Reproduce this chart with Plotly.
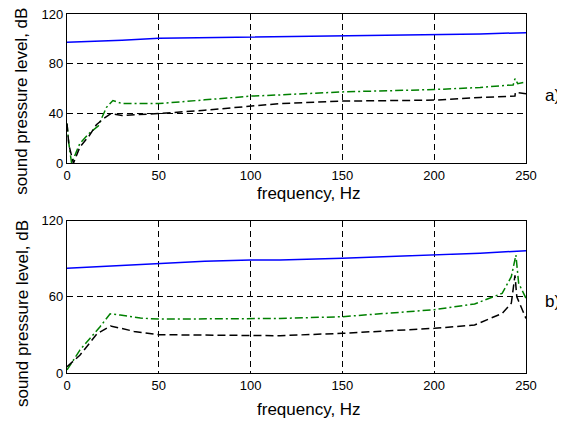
import plotly.graph_objects as go

# ---------------- data ----------------
# panel a)
blue_a_x = [0, 15, 30, 50, 75, 100, 150, 200, 225, 250]
blue_a_y = [97.4, 98, 99, 100.5, 101, 101.5, 102, 103, 104, 105]

green_a_x = [0, 1, 2.5, 7, 12, 17, 21.5, 25, 30, 40, 50, 75, 100, 116, 150, 200, 225, 240, 243, 244, 245.5, 250]
green_a_y = [32, 16, 0, 16, 24, 30, 45, 50.5, 48, 48, 48, 51, 54, 55, 57.4, 59.3, 61, 62.8, 63, 68, 64, 65.5]

black_a_x = [0, 1, 3.5, 7, 12, 16, 20, 24, 30, 40, 50, 75, 100, 116, 150, 200, 225, 242, 244, 244.2, 250]
black_a_y = [32, 15, 0, 13, 22, 31, 36, 40, 38.5, 39, 40, 42.7, 46, 48, 50, 50.8, 53, 54, 54, 57, 56]

# panel b)
blue_b_x = [0, 25, 50, 75, 100, 116, 150, 200, 225, 250]
blue_b_y = [82.5, 84.5, 86.4, 88, 89, 89, 90.4, 93, 94.5, 96.4]

green_b_x = [0, 7, 18, 23.5, 29, 40, 50, 100, 116, 150, 200, 222, 237, 242, 244.5, 246, 250]
green_b_y = [2.4, 18, 36.5, 46.7, 45.7, 43.3, 42.5, 42.5, 43, 44.4, 49.9, 54.4, 62.8, 75.9, 93, 70.7, 58.9]

black_b_x = [0, 7, 16.4, 23.7, 29, 36.5, 50, 100, 116, 150, 200, 222, 237, 242, 244, 245, 247.5, 250]
black_b_y = [5, 14, 31, 37, 35.4, 32.8, 30.2, 29.4, 29.4, 31.3, 35.2, 37.8, 47, 55, 77, 60, 52, 43]

x_ticks = [0, 50, 100, 150, 200, 250]
y_ticks_a = [0, 40, 80, 120]
y_ticks_b = [0, 60, 120]

BLUE = "#0000ff"
GREEN = "#008000"
BLACK = "#000000"
FONT = "Liberation Sans, Arial, sans-serif"

fig = go.Figure()

def add_panel(xa, ya, bx, by, gx, gy, kx, ky):
    fig.add_trace(go.Scatter(x=bx, y=by, mode="lines", xaxis=xa, yaxis=ya,
                             line=dict(color=BLUE, width=1.5)))
    fig.add_trace(go.Scatter(x=gx, y=gy, mode="lines", xaxis=xa, yaxis=ya,
                             line=dict(color=GREEN, width=1.5, dash="8px,3px,2px,3px")))
    fig.add_trace(go.Scatter(x=kx, y=ky, mode="lines", xaxis=xa, yaxis=ya,
                             line=dict(color=BLACK, width=1.5, dash="8px,4px")))

add_panel("x", "y", blue_a_x, blue_a_y, green_a_x, green_a_y, black_a_x, black_a_y)
add_panel("x2", "y2", blue_b_x, blue_b_y, green_b_x, green_b_y, black_b_x, black_b_y)

axis_common = dict(
    showline=True, mirror=True, linecolor="black", linewidth=1.3,
    showgrid=True, gridcolor="black", gridwidth=1, griddash="6px,4px",
    zeroline=False, ticks="", automargin=False, ticklabeloverflow="allow",
    tickfont=dict(family=FONT, size=13, color="black"),
)

TITLE_FONT = dict(size=17, family=FONT, color="black")

def ann(text, x, y, yref="paper", angle=0):
    return dict(text=text, xref="paper", yref=yref, x=x, y=y, xanchor="center",
                yanchor="middle", showarrow=False, textangle=angle, font=TITLE_FONT)

# the page body has an 8px margin, so the figure is sized to fit the window
fig.update_layout(
    width=557, height=414,
    margin=dict(l=59, r=39, t=6, b=49),
    paper_bgcolor="white", plot_bgcolor="white",
    showlegend=False,
    font=dict(family=FONT, color="black"),
    xaxis=dict(domain=[0, 1], anchor="y", range=[0, 250], tickvals=x_ticks, **axis_common),
    yaxis=dict(domain=[0.584, 1], anchor="x", range=[0, 120], tickvals=y_ticks_a, **axis_common),
    xaxis2=dict(domain=[0, 1], anchor="y2", range=[0, 250], tickvals=x_ticks, **axis_common),
    yaxis2=dict(domain=[0, 0.424], anchor="x2", range=[0, 120], tickvals=y_ticks_b, **axis_common),
    annotations=[
        ann("frequency, Hz", 0.527, 0.501),
        ann("frequency, Hz", 0.527, -0.103),
        ann("sound pressure level, dB", -0.098, 0.7557, angle=-90),
        ann("sound pressure level, dB", -0.098, 0.1643, angle=-90),
        ann("a)", 1.0588, 54.8, yref="y"),
        ann("b)", 1.0588, 56.2, yref="y2"),
    ],
)

fig.write_html("out.html")
